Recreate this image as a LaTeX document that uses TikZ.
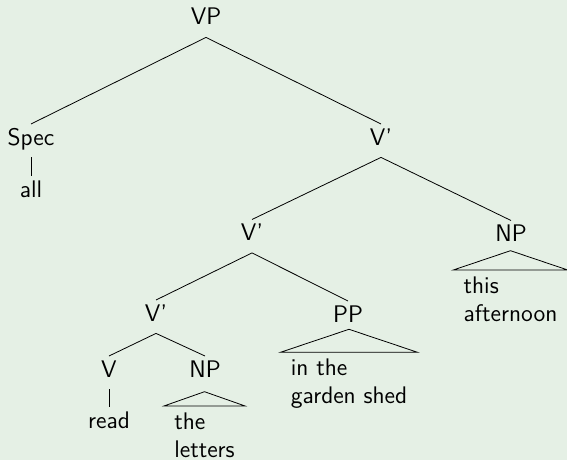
\documentclass[tikz,border=0pt]{standalone}
\newlength{\du}
\setlength{\du}{0.5pt}
\definecolor{slidebg}{rgb}{0.898039, 0.941176, 0.898039}
\tikzset{
  cat/.style={font=\sffamily\fontsize{12}{14}\selectfont, text height=8.3pt, text depth=4pt, inner sep=2pt, anchor=base},
  roof/.style={font=\sffamily\fontsize{12}{14}\selectfont, align=left, inner xsep=5pt, inner ysep=3pt, anchor=north},
  branch/.style={draw=black, line width=0.4pt}
}
\begin{document}
\begin{tikzpicture}
\pgftransformxscale{1.000000}
\pgftransformyscale{-1.000000}
\useasboundingbox (0\du,0\du) rectangle (567\du,460\du);
\fill[slidebg] (0\du,0\du)--(0\du,460\du)--(567\du,460\du)--(567\du,0\du)--cycle;
% categories
\node[cat] (vp) at (206.000000\du,25.000000\du){VP};
\node[cat] (spec) at (31.000000\du,145.000000\du){Spec};
\node[cat] (all) at (31.000000\du,197.000000\du){all};
\node[cat] (vbarA) at (381.000000\du,145.000000\du){V'};
\node[cat] (vbarB) at (252.000000\du,240.500000\du){V'};
\node[cat] (npA) at (511.000000\du,241.500000\du){NP};
\node[cat] (vbarC) at (156.000000\du,321.000000\du){V'};
\node[cat] (pp) at (348.000000\du,322.000000\du){PP};
\node[cat] (v) at (109.000000\du,377.000000\du){V};
\node[cat] (npB) at (205.000000\du,377.000000\du){NP};
\node[cat] (read) at (109.000000\du,428.000000\du){read};
% roofed leaves
\node[roof] (npAleaf) at (510.500000\du,270.000000\du){this\\afternoon};
\node[roof] (ppleaf) at (349.000000\du,352.300000\du){in the\\garden shed};
\node[roof] (npBleaf) at (204.500000\du,406.000000\du){the\\letters};
\coordinate (npAtop) at (510.500000\du,250.700000\du);
\coordinate (pptop) at (349.000000\du,329.300000\du);
\coordinate (npBtop) at (204.500000\du,391.700000\du);
% branches
\draw[branch] (vp.south)--(spec.north);
\draw[branch] (vp.south)--(vbarA.north);
\draw[branch] (spec.south)--(all.north);
\draw[branch] (vbarA.south)--(vbarB.north);
\draw[branch] (vbarA.south)--(npA.north);
\draw[branch] (vbarB.south)--(vbarC.north);
\draw[branch] (vbarB.south)--(pp.north);
\draw[branch] (vbarC.south)--(v.north);
\draw[branch] (vbarC.south)--(npB.north);
\draw[branch] (v.south)--(read.north);
% roofs
\draw[branch] (npAtop)--(npAleaf.north west)--(npAleaf.north east)--cycle;
\draw[branch] (pptop)--(ppleaf.north west)--(ppleaf.north east)--cycle;
\draw[branch] (npBtop)--(npBleaf.north west)--(npBleaf.north east)--cycle;
\end{tikzpicture}
\end{document}
